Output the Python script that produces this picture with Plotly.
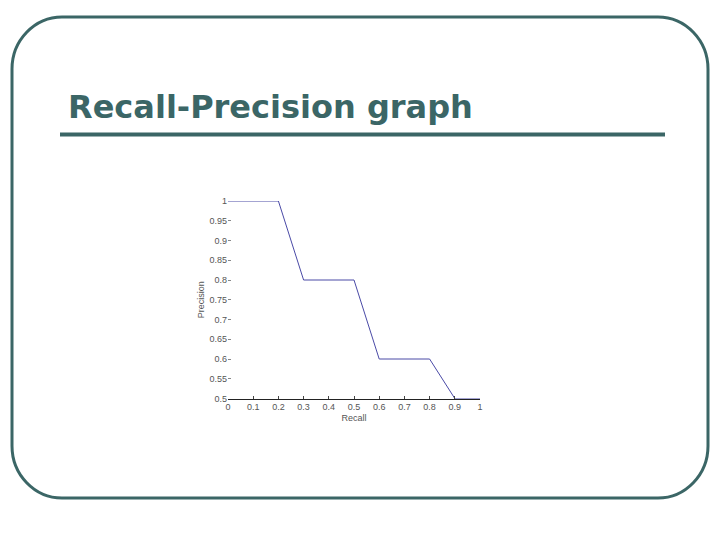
import plotly.graph_objects as go

# Data
recall = [0, 0.2, 0.3, 0.5, 0.6, 0.8, 0.9, 1.0]
precision = [1.0, 1.0, 0.8, 0.8, 0.6, 0.6, 0.5, 0.5]
x_ticks = [0, 0.1, 0.2, 0.3, 0.4, 0.5, 0.6, 0.7, 0.8, 0.9, 1.0]
x_tick_labels = ["0", "0.1", "0.2", "0.3", "0.4", "0.5", "0.6", "0.7", "0.8", "0.9", "1"]
y_ticks = [0.5, 0.55, 0.6, 0.65, 0.7, 0.75, 0.8, 0.85, 0.9, 0.95, 1.0]
y_tick_labels = ["0.5", "0.55", "0.6", "0.65", "0.7", "0.75", "0.8", "0.85", "0.9", "0.95", "1"]
title_text = "Recall-Precision graph"

W, H = 720, 540
TEAL = "#3b6666"


def px(x):
    return x / W


def py(y):
    return 1 - y / H


def P(x, y):
    return f"{px(x):.5f},{py(y):.5f}"


fig = go.Figure()
fig.add_trace(go.Scatter(x=recall, y=precision, mode="lines",
                         line=dict(color="#4a4aa6", width=1), showlegend=False))

# rounded slide border
L, T, R, B, rx, ry = 12, 17, 708, 498, 50, 52
k = 0.55
path = (f"M {P(L + rx, T)} L {P(R - rx, T)} "
        f"C {P(R - rx + k * rx, T)} {P(R, T + ry - k * ry)} {P(R, T + ry)} "
        f"L {P(R, B - ry)} "
        f"C {P(R, B - ry + k * ry)} {P(R - rx + k * rx, B)} {P(R - rx, B)} "
        f"L {P(L + rx, B)} "
        f"C {P(L + rx - k * rx, B)} {P(L, B - ry + k * ry)} {P(L, B - ry)} "
        f"L {P(L, T + ry)} "
        f"C {P(L, T + ry - k * ry)} {P(L + rx - k * rx, T)} {P(L + rx, T)} Z")

fig.add_shape(type="path", path=path, xref="paper", yref="paper",
              line=dict(color=TEAL, width=3), layer="below")
# underline
fig.add_shape(type="line", xref="paper", yref="paper",
              x0=px(60), x1=px(665), y0=py(134.5), y1=py(134.5),
              line=dict(color=TEAL, width=4))

fig.add_annotation(text=title_text, xref="paper", yref="paper",
                   x=px(66), y=py(107), xanchor="left", yanchor="middle",
                   showarrow=False,
                   font=dict(family="DejaVu Sans", size=32, color=TEAL,
                             weight="bold"))

tick_font = dict(family="Liberation Sans, Arial", size=9, color="#555555")

fig.update_layout(
    width=W, height=H, autosize=False,
    margin=dict(l=0, r=0, t=0, b=0, pad=0, autoexpand=False),
    paper_bgcolor="white", plot_bgcolor="white",
    xaxis=dict(domain=[px(228), px(480)], range=[0, 1],
               tickvals=x_ticks, ticktext=x_tick_labels,
               showgrid=False, zeroline=False, automargin=False,
               showline=True, linecolor="#222222", linewidth=1,
               ticks="inside", ticklen=3, tickcolor="#444444",
               tickfont=tick_font,
               title=dict(text="Recall", font=tick_font, standoff=3)),
    yaxis=dict(domain=[py(398.5), py(201)], range=[0.5, 1],
               tickvals=y_ticks, ticktext=y_tick_labels,
               showgrid=False, zeroline=False, automargin=False,
               showline=False,
               ticks="inside", ticklen=3, tickcolor="#888888",
               tickfont=tick_font,
               title=dict(text="Precision", font=tick_font, standoff=3)),
)

fig.write_html("out.html", config={"displayModeBar": False},
               post_script="document.body.style.margin='0';document.body.style.padding='0';")
